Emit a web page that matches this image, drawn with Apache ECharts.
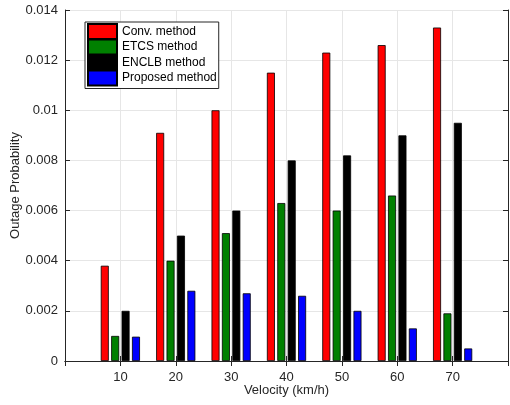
<!DOCTYPE html>
<html><head><meta charset="utf-8">
<script src="https://cdn.jsdelivr.net/npm/echarts@6/dist/echarts.min.js"></script>
<style>html,body{margin:0;padding:0;background:#fff}#c{width:510px;height:405px}</style>
</head><body><div id="c"></div>
<script>
const categories = ['10','20','30','40','50','60','70'];
const seriesNames = ['Conv. method','ETCS method','ENCLB method','Proposed method'];
const conv = [0.0038, 0.0091, 0.0100, 0.0115, 0.0123, 0.0126, 0.0133];
const etcs = [0.0010, 0.0040, 0.0051, 0.0063, 0.0060, 0.0066, 0.0019];
const enclb = [0.0020, 0.0050, 0.0060, 0.0080, 0.0082, 0.0090, 0.0095];
const proposed = [0.00097, 0.0028, 0.0027, 0.0026, 0.0020, 0.0013, 0.0005];
const yTicks = [0, 0.002, 0.004, 0.006, 0.008, 0.01, 0.012, 0.014];

const colors = ['#FF0000', '#008000', '#000000', '#0000FF'];
const axisCats = [''].concat(categories, ['']);
const pad = arr => ['-'].concat(arr, ['-']);
const font = 'Liberation Sans, Arial, sans-serif';
const axCol = '#262626';

const chart = echarts.init(document.getElementById('c'), null, {renderer: 'canvas'});
const dataSets = [conv, etcs, enclb, proposed];
chart.setOption({
  animation: false,
  backgroundColor: '#fff',
  grid: {left: 65, right: 2, top: 10, bottom: 44, show: false, containLabel: false, outerBoundsMode: 'none'},
  legend: {
    orient: 'vertical', left: 85, top: 22,
    itemWidth: 29, itemHeight: 15, itemGap: -1.5,
    padding: [1, 2, 2, 2],
    backgroundColor: '#fff', borderColor: '#262626', borderWidth: 1,
    icon: 'rect',
    textStyle: {fontFamily: font, fontSize: 12, color: '#000', lineHeight: 14},
    data: seriesNames
  },
  xAxis: [{
    type: 'category', data: axisCats, boundaryGap: false,
    axisLine: {lineStyle: {color: axCol, width: 1}},
    axisTick: {inside: true, length: 5, lineStyle: {color: axCol}},
    axisLabel: {fontFamily: font, fontSize: 13, color: axCol, margin: 10, interval: 0},
    splitLine: {show: true, lineStyle: {color: '#e6e6e6', width: 1}},
    name: 'Velocity (km/h)', nameLocation: 'middle', nameGap: 23, nameMoveOverlap: false,
    nameTextStyle: {fontFamily: font, fontSize: 13, color: axCol}
  }, {
    type: 'category', data: axisCats, boundaryGap: false, position: 'top',
    axisLine: {lineStyle: {color: axCol, width: 1}},
    axisTick: {inside: true, length: 5, lineStyle: {color: axCol}},
    axisLabel: {show: false}, splitLine: {show: false}
  }],
  yAxis: [{
    type: 'value', min: 0, max: 0.014, interval: 0.002,
    axisLine: {show: true, lineStyle: {color: axCol, width: 1}},
    axisTick: {show: true, inside: true, length: 5, lineStyle: {color: axCol}},
    axisLabel: {fontFamily: font, fontSize: 13, color: axCol, margin: 7,
      formatter: v => { const t = yTicks.find(x => Math.abs(x - v) < 1e-9); return t === undefined ? '' : String(t); }},
    splitLine: {show: true, lineStyle: {color: '#e6e6e6', width: 1}},
    name: 'Outage Probability', nameLocation: 'middle', nameGap: 43, nameMoveOverlap: false,
    nameTextStyle: {fontFamily: font, fontSize: 13, color: axCol}
  }, {
    type: 'value', min: 0, max: 0.014, interval: 0.002, position: 'right',
    axisLine: {show: true, lineStyle: {color: axCol, width: 1}},
    axisTick: {show: true, inside: true, length: 5, lineStyle: {color: axCol}},
    axisLabel: {show: false}, splitLine: {show: false}
  }],
  series: seriesNames.map((n, i) => ({
    name: n, type: 'bar', data: pad(dataSets[i]),
    barWidth: 8, barGap: '30%',
    itemStyle: {color: colors[i], borderColor: '#000', borderWidth: 0.8}
  }))
});
</script></body></html>
